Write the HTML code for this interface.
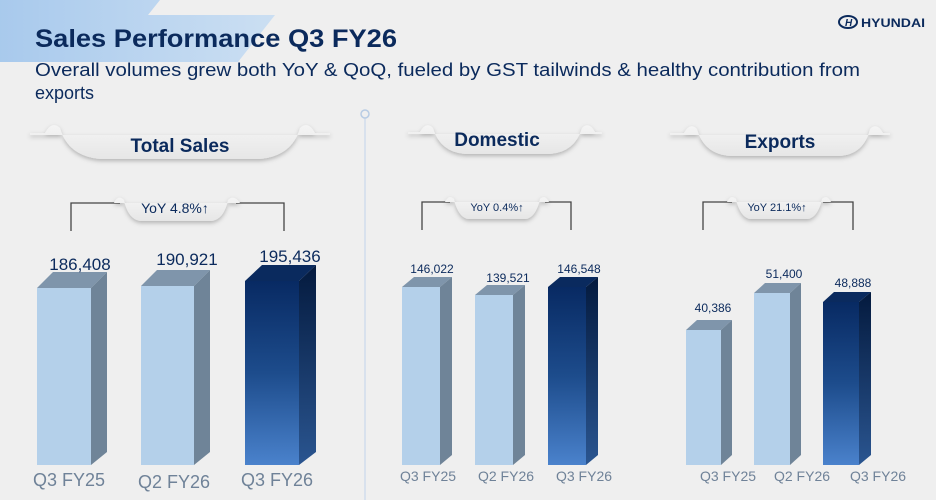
<!DOCTYPE html>
<html><head><meta charset="utf-8"><style>
html,body{margin:0;padding:0;background:#efefef;}
svg{display:block;font-family:"Liberation Sans",sans-serif;}
</style></head><body>
<svg width="936" height="500" viewBox="0 0 936 500" xmlns="http://www.w3.org/2000/svg">
<defs>
<linearGradient id="hdr" x1="0" x2="1" y1="0" y2="0"><stop offset="0" stop-color="#9cc3ec"/><stop offset="1" stop-color="#c5dcf3"/></linearGradient>
<linearGradient id="dark" x1="0" x2="0" y1="0" y2="1"><stop offset="0" stop-color="#082a63"/><stop offset="0.5" stop-color="#1d4c8c"/><stop offset="1" stop-color="#4a82cc"/></linearGradient>
<linearGradient id="darkside" x1="0" x2="0" y1="0" y2="1"><stop offset="0" stop-color="#041a3e"/><stop offset="1" stop-color="#2a5590"/></linearGradient>
<linearGradient id="rib" x1="0" x2="0" y1="0" y2="1"><stop offset="0" stop-color="#f4f4f4"/><stop offset="1" stop-color="#e6e6e6"/></linearGradient>
<filter id="sh" x="-10%" y="-30%" width="120%" height="170%"><feDropShadow dx="0" dy="2" stdDeviation="2" flood-color="#000" flood-opacity="0.25"/></filter>
</defs>
<rect width="936" height="500" fill="#efefef"/>
<polygon points="0,0 160,0 148,15 275,15 238,62 0,62" fill="url(#hdr)" opacity="0.85"/>
<text x="35" y="47" font-size="25" font-weight="bold" fill="#0b2a5c" textLength="362" lengthAdjust="spacingAndGlyphs">Sales Performance Q3 FY26</text>
<text x="35" y="76" font-size="18" fill="#0b2a5c" textLength="825" lengthAdjust="spacingAndGlyphs">Overall volumes grew both YoY &amp; QoQ, fueled by GST tailwinds &amp; healthy contribution from</text>
<text x="35" y="99" font-size="18" fill="#0b2a5c">exports</text>
<ellipse cx="848" cy="22" rx="9" ry="6" fill="none" stroke="#0b2a5c" stroke-width="2"/>
<text x="845" y="26" font-size="10" font-weight="bold" font-style="italic" fill="#0b2a5c">H</text>
<text x="861" y="27" font-size="12" font-weight="bold" fill="#0b2a5c" textLength="64" lengthAdjust="spacingAndGlyphs">HYUNDAI</text>
<line x1="365" y1="118" x2="365" y2="500" stroke="#c8d8ec" stroke-width="1.2"/>
<circle cx="365" cy="114" r="4" fill="#efefef" stroke="#b8cce4" stroke-width="1.5"/>

<g filter="url(#sh)">
<path d="M30,133 L45,133 Q52,120 60,128 Q68,156 100,159 L260,159 Q292,156 300,128 Q308,120 315,133 L330,133 L330,135 L30,135Z" fill="url(#rib)"/>
<path d="M408,132 L420,132 Q426,121 433,128 Q440,152 465,154 L550,154 Q575,152 582,128 Q589,121 595,132 L602,132 L602,134 L408,134Z" fill="url(#rib)"/>
<path d="M670,133 L684,133 Q690,122 697,129 Q704,154 730,156 L840,156 Q864,154 870,129 Q877,122 883,133 L890,133 L890,135 L670,135Z" fill="url(#rib)"/>
</g>
<text x="180" y="152" font-size="19" font-weight="bold" fill="#0b2a5c" text-anchor="middle">Total Sales</text>
<text x="497" y="146" font-size="19" font-weight="bold" fill="#0b2a5c" text-anchor="middle">Domestic</text>
<text x="780" y="148" font-size="19" font-weight="bold" fill="#0b2a5c" text-anchor="middle">Exports</text>

<g fill="none" stroke="#444" stroke-width="1.3">
<polyline points="71,231 71,203 120,203"/><polyline points="236,203 284,203 284,231"/>
<polyline points="422,230 422,202 450,202"/><polyline points="545,202 571,202 571,230"/>
<polyline points="703,230 703,202 732,202"/><polyline points="823,202 853,202 853,230"/>
</g>
<g filter="url(#sh)">
<path d="M114,203 Q118,194 124,200 Q128,219 140,221 L212,221 Q224,219 228,200 Q234,194 240,203Z" fill="url(#rib)"/>
<path d="M445,202 Q449,194 454,199 Q458,217 468,219 L526,219 Q536,217 540,199 Q545,194 549,202Z" fill="url(#rib)"/>
<path d="M727,202 Q731,194 736,199 Q740,217 750,219 L808,219 Q818,217 822,199 Q827,194 831,202Z" fill="url(#rib)"/>
</g>
<text x="175" y="213" font-size="14" fill="#0b2a5c" text-anchor="middle">YoY 4.8%↑</text>
<text x="497" y="211" font-size="11" fill="#0b2a5c" text-anchor="middle">YoY 0.4%↑</text>
<text x="777" y="211" font-size="11" fill="#0b2a5c" text-anchor="middle">YoY 21.1%↑</text>

<g>
<polygon points="37,288 53,272 107,272 91,288" fill="#7f95ab"/><polygon points="91,288 107,272 107,452 91,465" fill="#6f8498"/><rect x="37" y="288" width="54" height="177" fill="#b4d0ea"/>
<polygon points="141,286 157,270 210,270 194,286" fill="#7f95ab"/><polygon points="194,286 210,270 210,452 194,465" fill="#6f8498"/><rect x="141" y="286" width="53" height="179" fill="#b4d0ea"/>
<polygon points="245,281 262,265 316,265 299,281" fill="#0a2a5e"/><polygon points="299,281 316,265 316,452 299,465" fill="url(#darkside)"/><rect x="245" y="281" width="54" height="184" fill="url(#dark)"/>
</g>
<g font-size="17" fill="#0b2a5c" text-anchor="middle">
<text x="80" y="270">186,408</text><text x="187" y="265">190,921</text><text x="290" y="262">195,436</text>
</g>
<g font-size="18" fill="#6f8298" text-anchor="middle">
<text x="69" y="486">Q3 FY25</text><text x="174" y="488">Q2 FY26</text><text x="277" y="486">Q3 FY26</text>
</g>

<g>
<polygon points="402,287 414,277 452,277 440,287" fill="#7f95ab"/><polygon points="440,287 452,277 452,455 440,465" fill="#6f8498"/><rect x="402" y="287" width="38" height="178" fill="#b4d0ea"/>
<polygon points="475,295 487,285 525,285 513,295" fill="#7f95ab"/><polygon points="513,295 525,285 525,455 513,465" fill="#6f8498"/><rect x="475" y="295" width="38" height="170" fill="#b4d0ea"/>
<polygon points="548,287 560,277 598,277 586,287" fill="#0a2a5e"/><polygon points="586,287 598,277 598,455 586,465" fill="url(#darkside)"/><rect x="548" y="287" width="38" height="178" fill="url(#dark)"/>
</g>
<g font-size="12" fill="#0b2a5c" text-anchor="middle">
<text x="432" y="273">146,022</text><text x="508" y="282">139,521</text><text x="579" y="273">146,548</text>
</g>
<g font-size="14" fill="#6f8298" text-anchor="middle">
<text x="428" y="481">Q3 FY25</text><text x="506" y="481">Q2 FY26</text><text x="584" y="481">Q3 FY26</text>
</g>

<g>
<polygon points="686,330 697,320 732,320 721,330" fill="#7f95ab"/><polygon points="721,330 732,320 732,455 721,465" fill="#6f8498"/><rect x="686" y="330" width="35" height="135" fill="#b4d0ea"/>
<polygon points="754,293 765,283 801,283 790,293" fill="#7f95ab"/><polygon points="790,293 801,283 801,455 790,465" fill="#6f8498"/><rect x="754" y="293" width="36" height="172" fill="#b4d0ea"/>
<polygon points="823,302 834,292 871,292 859,302" fill="#0a2a5e"/><polygon points="859,302 871,292 871,455 859,465" fill="url(#darkside)"/><rect x="823" y="302" width="36" height="163" fill="url(#dark)"/>
</g>
<g font-size="12" fill="#0b2a5c" text-anchor="middle">
<text x="713" y="312">40,386</text><text x="784" y="278">51,400</text><text x="853" y="287">48,888</text>
</g>
<g font-size="14" fill="#6f8298" text-anchor="middle">
<text x="728" y="481">Q3 FY25</text><text x="802" y="481">Q2 FY26</text><text x="878" y="481">Q3 FY26</text>
</g>
</svg>
</body></html>
